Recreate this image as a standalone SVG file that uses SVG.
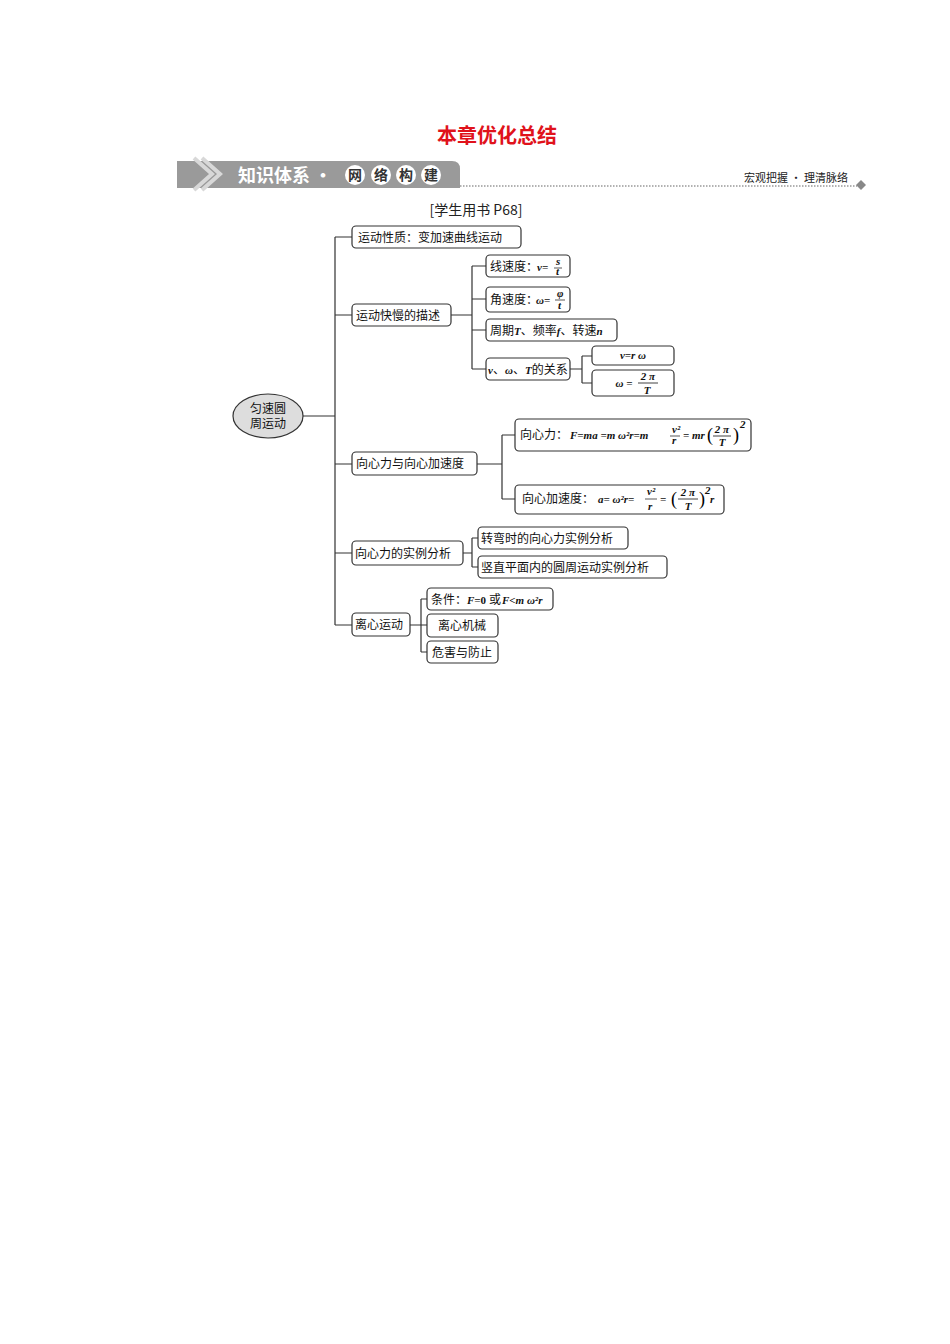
<svg xmlns="http://www.w3.org/2000/svg" width="950" height="1344" viewBox="0 0 950 1344">
<style>
.b{fill:#fff;stroke:#333;stroke-width:1.2}
.t{font-family:"Noto Sans CJK SC","Liberation Serif",serif;font-size:12px;fill:#111}
.m{font-family:"Liberation Serif",serif;font-style:italic;font-weight:bold;font-size:11px;fill:#111}
.l{fill:none;stroke:#333;stroke-width:1.2}
</style>
<rect width="950" height="1344" fill="#fff"/>
<text x="497" y="143" text-anchor="middle" font-family="Noto Sans CJK SC,sans-serif" font-size="20" font-weight="bold" fill="#e0121b">本章优化总结</text>
<g id="header">
<path d="M177,161 H452 Q460,161 460,169 V188 H177 Z" fill="#9a9a9a"/>
<path d="M194,158 L212,174 L194,190 M202,158 L220,174 L202,190" fill="none" stroke="#d8d8d8" stroke-width="4"/>
<text x="238" y="182" font-family="Noto Sans CJK SC,sans-serif" font-size="18" font-weight="bold" fill="#fff">知识体系 · </text>
<g font-family="Noto Sans CJK SC,sans-serif" font-size="14" font-weight="bold" fill="#333" text-anchor="middle">
<circle cx="355" cy="175" r="10" fill="#fff"/><text x="355" y="180">网</text>
<circle cx="381" cy="175" r="10" fill="#fff"/><text x="381" y="180">络</text>
<circle cx="406" cy="175" r="10" fill="#fff"/><text x="406" y="180">构</text>
<circle cx="431" cy="175" r="10" fill="#fff"/><text x="431" y="180">建</text>
</g>
<line x1="460" y1="186" x2="857" y2="186" stroke="#999" stroke-width="1.5" stroke-dasharray="1.5,1.5"/>
<path d="M861,180 L866,185 L861,190 L856,185 Z" fill="#888"/>
<text x="848" y="182" text-anchor="end" font-family="Noto Sans CJK SC,sans-serif" font-size="11" fill="#222">宏观把握 · 理清脉络</text>
<text x="476" y="215" text-anchor="middle" font-family="Noto Sans CJK SC,serif" font-size="14" fill="#222">[学生用书 P68]</text>
</g>
<g id="connectors">
<path class="l" d="M303,416 H335 M335,237 V625 M335,237 H352 M335,315 H352 M335,464 H352 M335,553 H352 M335,625 H352"/>
<path class="l" d="M451,315 H472 M472,266 V369 M472,266 H486 M472,299 H486 M472,330 H486 M472,369 H486"/>
<path class="l" d="M570,369 H582 M582,356 V383 M582,356 H592 M582,383 H592"/>
<path class="l" d="M477,464 H502 M502,435 V499 M502,435 H515 M502,499 H515"/>
<path class="l" d="M463,553 H472 M472,538 V567 M472,538 H478 M472,567 H478"/>
<path class="l" d="M410,625 H421 M421,599 V652 M421,599 H427 M421,625 H427 M421,652 H427"/>
</g>
<g id="root"><ellipse cx="268" cy="416" rx="35" ry="22" fill="#ddd" stroke="#333" stroke-width="1.2"/>
<text class="t" x="268" y="413" text-anchor="middle">匀速圆</text><text class="t" x="268" y="428" text-anchor="middle">周运动</text></g>
<g id="A"><rect class="b" x="352" y="226" width="169" height="22" rx="4"/><text class="t" x="358" y="242">运动性质：变加速曲线运动</text></g>
<g id="B"><rect class="b" x="352" y="304" width="99" height="22" rx="4"/><text class="t" x="356" y="320">运动快慢的描述</text></g>
<g id="B1"><rect class="b" x="486" y="255" width="84" height="22" rx="4"/><text class="t" x="490" y="271">线速度：</text><text class="m" x="537" y="271">v=</text><text class="m" x="556" y="265" font-size="8">s</text><line x1="554" y1="268" x2="562" y2="268" stroke="#111" stroke-width="0.7"/><text class="m" x="556" y="275" font-size="8">t</text></g>
<g id="B2"><rect class="b" x="486" y="287" width="84" height="25" rx="4"/><text class="t" x="490" y="304">角速度：</text><text class="m" x="536" y="304">ω=</text><text class="m" x="557" y="297" font-size="10">φ</text><line x1="555" y1="300" x2="565" y2="300" stroke="#111" stroke-width="0.7"/><text class="m" x="558" y="309" font-size="10">t</text></g>
<g id="B3"><rect class="b" x="486" y="319" width="131" height="22" rx="4"/><text class="t" x="490" y="335">周期<tspan class="m">T</tspan>、频率<tspan class="m">f</tspan>、转速<tspan class="m">n</tspan></text></g>
<g id="B4"><rect class="b" x="486" y="358" width="84" height="22" rx="4"/><text class="t" x="488" y="374" font-size="11"><tspan class="m">v</tspan>、<tspan class="m">ω</tspan>、<tspan class="m">T</tspan>的关系</text></g>
<g id="B41"><rect class="b" x="592" y="346" width="82" height="19" rx="4"/><text class="m" x="633" y="359" text-anchor="middle">v=r ω</text></g>
<g id="B42"><rect class="b" x="592" y="370" width="82" height="26" rx="4"/><text class="m" x="624" y="387" text-anchor="middle">ω =</text><text class="m" x="648" y="380" text-anchor="middle">2 π</text><line x1="638" y1="383" x2="658" y2="383" stroke="#111" stroke-width="0.8"/><text class="m" x="647" y="394" text-anchor="middle">T</text></g>
<g id="C"><rect class="b" x="352" y="452" width="125" height="23" rx="4"/><text class="t" x="356" y="468">向心力与向心加速度</text></g>
<g id="C1"><rect class="b" x="515" y="419" width="236" height="32" rx="4"/><text class="t" x="520" y="439">向心力：</text><text class="m" x="570" y="439">F=ma =m ω²r=m</text><text class="m" x="672" y="433" font-size="8">v²</text><line x1="670" y1="436" x2="680" y2="436" stroke="#111" stroke-width="0.7"/><text class="m" x="672" y="444" font-size="8">r</text><text class="m" x="683" y="439">= mr</text><text x="707" y="441" font-family="Liberation Serif,serif" font-size="18">(</text><text class="m" x="722" y="433" text-anchor="middle">2 π</text><line x1="713" y1="436" x2="731" y2="436" stroke="#111" stroke-width="0.8"/><text class="m" x="722" y="446" text-anchor="middle">T</text><text x="733" y="441" font-family="Liberation Serif,serif" font-size="18">)</text><text class="m" x="740" y="428" font-size="7">2</text></g>
<g id="C2"><rect class="b" x="515" y="485" width="209" height="29" rx="4"/><text class="t" x="522" y="503">向心加速度：</text><text class="m" x="598" y="503">a= ω²r=</text><line x1="645" y1="499" x2="657" y2="499" stroke="#111" stroke-width="0.7"/><text class="m" x="647" y="495" font-size="8">v²</text><text class="m" x="648" y="510" font-size="8">r</text><text class="m" x="660" y="503">=</text><text x="671" y="505" font-family="Liberation Serif,serif" font-size="18">(</text><text class="m" x="688" y="496" text-anchor="middle">2 π</text><line x1="678" y1="499" x2="698" y2="499" stroke="#111" stroke-width="0.8"/><text class="m" x="688" y="510" text-anchor="middle">T</text><text x="699" y="505" font-family="Liberation Serif,serif" font-size="18">)</text><text class="m" x="705" y="494" font-size="7">2</text><text class="m" x="710" y="503">r</text></g>
<g id="D"><rect class="b" x="352" y="541" width="111" height="24" rx="4"/><text class="t" x="355" y="558">向心力的实例分析</text></g>
<g id="D1"><rect class="b" x="478" y="527" width="150" height="22" rx="4"/><text class="t" x="481" y="543">转弯时的向心力实例分析</text></g>
<g id="D2"><rect class="b" x="478" y="556" width="189" height="22" rx="4"/><text class="t" x="481" y="572">竖直平面内的圆周运动实例分析</text></g>
<g id="E"><rect class="b" x="352" y="613" width="58" height="23" rx="4"/><text class="t" x="355" y="629">离心运动</text></g>
<g id="E1"><rect class="b" x="427" y="588" width="126" height="22" rx="4"/><text class="t" x="431" y="604">条件：</text><text class="m" x="467" y="604">F=<tspan font-style="normal">0</tspan></text><text class="t" x="489" y="604">或</text><text class="m" x="502" y="604">F&lt;m ω²r</text></g>
<g id="E2"><rect class="b" x="427" y="614" width="71" height="23" rx="4"/><text class="t" x="462" y="630" text-anchor="middle">离心机械</text></g>
<g id="E3"><rect class="b" x="427" y="641" width="71" height="22" rx="4"/><text class="t" x="462" y="657" text-anchor="middle">危害与防止</text></g>
</svg>
